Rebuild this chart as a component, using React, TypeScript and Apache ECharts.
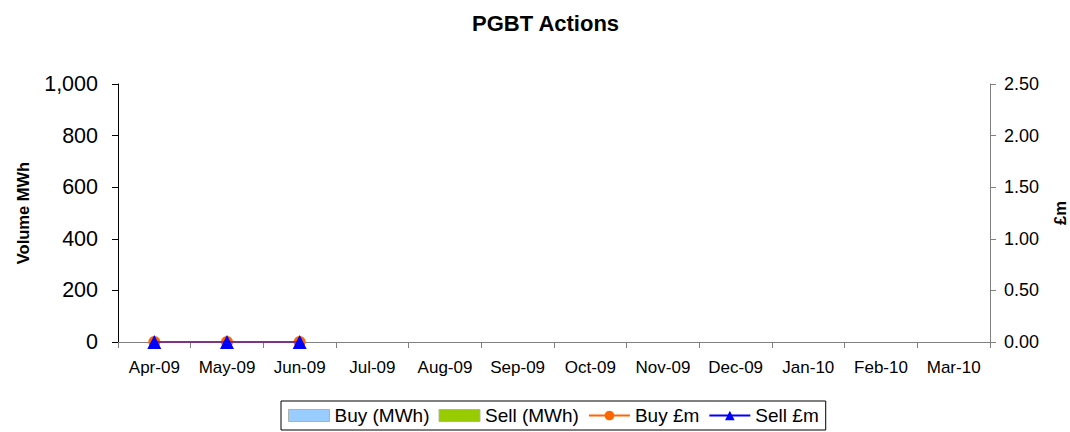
import React, { useEffect, useRef } from "react";
import * as echarts from "echarts";

const categories = ["Apr-09", "May-09", "Jun-09", "Jul-09", "Aug-09", "Sep-09", "Oct-09", "Nov-09", "Dec-09", "Jan-10", "Feb-10", "Mar-10"];
const buyMWh: (number | null)[] = [0, 0, 0, null, null, null, null, null, null, null, null, null];
const sellMWh: (number | null)[] = [0, 0, 0, null, null, null, null, null, null, null, null, null];
const buyGBP: (number | null)[] = [0, 0, 0, null, null, null, null, null, null, null, null, null];
const sellGBP: (number | null)[] = [0, 0, 0, null, null, null, null, null, null, null, null, null];

const FONT = "'Liberation Sans', Arial, sans-serif";

export default function App() {
  const ref = useRef<HTMLDivElement>(null);
  useEffect(() => {
    if (!ref.current) return;
    const chart = echarts.init(ref.current, undefined, { renderer: "svg" });
    chart.setOption({
      animation: false,
      backgroundColor: "#fff",
      textStyle: { fontFamily: FONT, color: "#000" },
      title: {
        text: "PGBT Actions",
        left: 467,
        top: 7,
        textStyle: { fontFamily: FONT, fontSize: 22, fontWeight: "bold", color: "#000" },
      },
      grid: { left: 118, right: 80, top: 84, bottom: 90, containLabel: false, outerBoundsMode: "none" },
      legend: {
        bottom: 2,
        left: 281,
        borderColor: "#000",
        borderWidth: 1,
        padding: [5, 7, 5, 7],
        itemGap: 9,
        itemWidth: 41,
        itemHeight: 12,
        textStyle: { fontFamily: FONT, fontSize: 19, color: "#000" },
        data: [
          { name: "Buy (MWh)", icon: "rect", itemStyle: { color: "#99CCFF", borderColor: "#b0b0b0", borderWidth: 1 } },
          { name: "Sell (MWh)", icon: "rect", itemStyle: { color: "#99CC00", borderColor: "#b0b0b0", borderWidth: 1 } },
          { name: "Buy £m", itemStyle: { color: "#FF6600" }, lineStyle: { color: "#FF6600", opacity: 1 } },
          { name: "Sell £m", itemStyle: { color: "#0000FF", opacity: 1 }, lineStyle: { color: "#0000FF", opacity: 1 } },
        ],
      },
      xAxis: {
        type: "category",
        data: categories,
        boundaryGap: true,
        axisLine: { lineStyle: { color: "#808080", width: 1 } },
        axisTick: { show: true, length: 6, lineStyle: { color: "#808080" } },
        axisLabel: { fontFamily: FONT, fontSize: 17, color: "#000", margin: 17, interval: 0 },
      },
      yAxis: [
        {
          type: "value",
          min: 0,
          max: 1000,
          interval: 200,
          name: "Volume MWh",
          nameLocation: "middle",
          nameGap: 87,
          nameTextStyle: { fontFamily: FONT, fontSize: 16.5, fontWeight: "bold", color: "#000" },
          axisLine: { show: true, lineStyle: { color: "#000", width: 1 } },
          axisTick: { show: true, length: 6, lineStyle: { color: "#000" } },
          splitLine: { show: false },
          axisLabel: {
            fontFamily: FONT,
            fontSize: 21.5,
            color: "#000",
            margin: 20,
            formatter: (v: number) => v.toLocaleString("en-US"),
          },
        },
        {
          type: "value",
          min: 0,
          max: 2.5,
          interval: 0.5,
          name: "£m",
          nameLocation: "middle",
          nameGap: 61,
          nameTextStyle: { fontFamily: FONT, fontSize: 16.5, fontWeight: "bold", color: "#000" },
          axisLine: { show: true, lineStyle: { color: "#808080", width: 1 } },
          axisTick: { show: true, length: 6, lineStyle: { color: "#808080" } },
          splitLine: { show: false },
          axisLabel: {
            fontFamily: FONT,
            fontSize: 18,
            color: "#000",
            margin: 14,
            formatter: (v: number) => v.toFixed(2),
          },
        },
      ],
      series: [
        { name: "Buy (MWh)", type: "bar", data: buyMWh, itemStyle: { color: "#99CCFF" }, yAxisIndex: 0 },
        { name: "Sell (MWh)", type: "bar", data: sellMWh, itemStyle: { color: "#99CC00" }, yAxisIndex: 0 },
        {
          name: "Buy £m",
          type: "line",
          data: buyGBP,
          yAxisIndex: 1,
          symbol: "circle",
          symbolSize: 12,
          lineStyle: { color: "#FF6600", width: 2 },
          itemStyle: { color: "#FF6600" },
          z: 3,
        },
        {
          name: "Sell £m",
          type: "line",
          data: sellGBP,
          yAxisIndex: 1,
          symbol: "triangle",
          symbolSize: 14,
          lineStyle: { color: "#0000FF", width: 2, opacity: 0.5 },
          itemStyle: { color: "#0000FF" },
          z: 4,
        },
      ],
    });
    return () => chart.dispose();
  }, []);
  return <div ref={ref} style={{ position: "fixed", left: 0, top: 0, width: 1070, height: 432 }} />;
}
